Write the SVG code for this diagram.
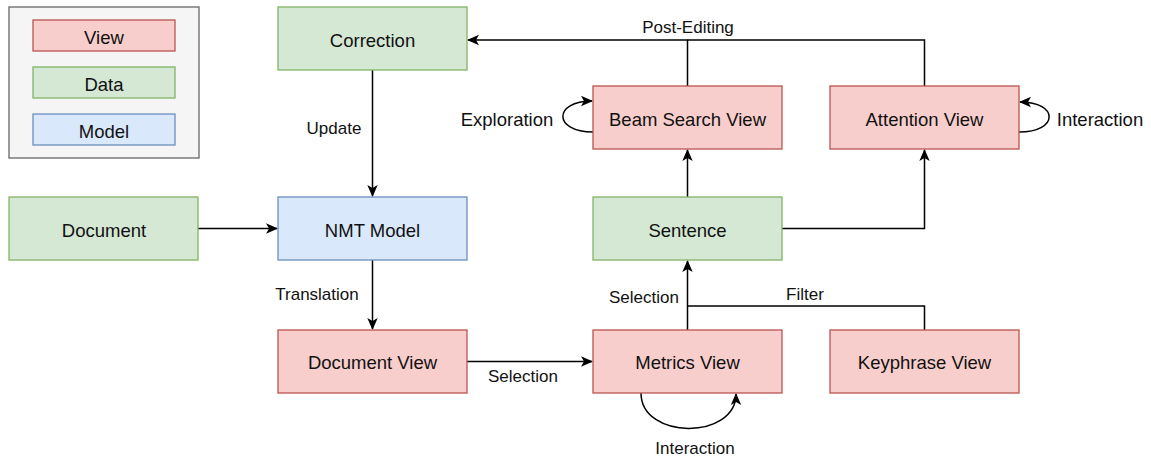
<svg xmlns="http://www.w3.org/2000/svg" width="1151" height="458" viewBox="0 0 1151 458">
  <style>
    text { font-family: "Liberation Sans", Arial, Helvetica, sans-serif; fill: #111; }
    .node-text { font-size: 18.5px; text-anchor: middle; dominant-baseline: central; }
    .edge-text { font-size: 17px; text-anchor: middle; dominant-baseline: central; }
    .loop-text { font-size: 18.5px; text-anchor: middle; dominant-baseline: central; }
    .legend-text { font-size: 18.5px; text-anchor: middle; dominant-baseline: central; }
    .view { fill: #f8cecc; stroke: #b85450; stroke-width: 1.3; }
    .data { fill: #d5e8d4; stroke: #82b366; stroke-width: 1.3; }
    .model { fill: #dae8fc; stroke: #6c8ebf; stroke-width: 1.3; }
    .edge { fill: none; stroke: #000; stroke-width: 1.5; }
  </style>
  <defs>
    <marker id="arrow" viewBox="0 0 12 12" refX="11" refY="6" markerWidth="12" markerHeight="12" markerUnits="userSpaceOnUse" orient="auto">
      <path d="M0,0.8 L12,6 L0,11.2 L3,6 Z" fill="#000"/>
    </marker>
  </defs>

  <rect width="1151" height="458" fill="#ffffff"/>

  <!-- Legend -->
  <g id="legend">
    <rect x="9" y="7" width="190" height="151" fill="#f5f5f5" stroke="#666666" stroke-width="1.3"/>
    <rect class="view" x="33" y="20" width="142" height="31"/>
    <text class="legend-text" x="104" y="37">View</text>
    <rect class="data" x="33" y="67" width="142" height="31"/>
    <text class="legend-text" x="104" y="84">Data</text>
    <rect class="model" x="33" y="114" width="142" height="31"/>
    <text class="legend-text" x="104" y="131">Model</text>
  </g>

  <!-- Connectors -->
  <g id="connectors">
    <!-- Update -->
    <path class="edge" d="M372.5,70 L372.5,196" marker-end="url(#arrow)"/>
    <text class="edge-text" x="334" y="128">Update</text>
    <!-- Document to model -->
    <path class="edge" d="M198,228.5 L277,228.5" marker-end="url(#arrow)"/>
    <!-- Translation -->
    <path class="edge" d="M372.5,260 L372.5,329" marker-end="url(#arrow)"/>
    <text class="edge-text" x="317" y="294">Translation</text>
    <!-- Document View to Metrics View -->
    <path class="edge" d="M467,361.5 L592,361.5" marker-end="url(#arrow)"/>
    <text class="edge-text" x="523" y="376">Selection</text>
    <!-- Metrics View to Sentence -->
    <path class="edge" d="M687.5,330 L687.5,261" marker-end="url(#arrow)"/>
    <text class="edge-text" x="644" y="297">Selection</text>
    <!-- Keyphrase filter -->
    <path class="edge" d="M924.5,330 L924.5,306 L687.5,306"/>
    <text class="edge-text" x="805" y="294">Filter</text>
    <!-- Sentence to Beam Search View -->
    <path class="edge" d="M687.5,197 L687.5,150" marker-end="url(#arrow)"/>
    <!-- Sentence to Attention View -->
    <path class="edge" d="M782,228.5 L924.5,228.5 L924.5,150" marker-end="url(#arrow)"/>
    <!-- Post-Editing -->
    <path class="edge" d="M687.5,86 L687.5,40 L468,40" marker-end="url(#arrow)"/>
    <path class="edge" d="M924.5,86 L924.5,40 L687.5,40"/>
    <text class="edge-text" x="688" y="27">Post-Editing</text>
    <!-- Exploration loop -->
    <path class="edge" d="M593,132 C553,132 553,101 592,101" marker-end="url(#arrow)"/>
    <text class="loop-text" x="507" y="119">Exploration</text>
    <!-- Attention interaction loop -->
    <path class="edge" d="M1019,132 C1059,132 1059,102 1020,102" marker-end="url(#arrow)"/>
    <text class="loop-text" x="1100" y="119">Interaction</text>
    <!-- Metrics interaction loop -->
    <path class="edge" d="M641,393 C641,440 736,440 736,394" marker-end="url(#arrow)"/>
    <text class="edge-text" x="695" y="448">Interaction</text>
  </g>

  <!-- Nodes -->
  <g id="correction">
    <rect class="data" x="278" y="7" width="189" height="63"/>
    <text class="node-text" x="372.5" y="40">Correction</text>
  </g>
  <g id="document">
    <rect class="data" x="9" y="197" width="189" height="63"/>
    <text class="node-text" x="104" y="230">Document</text>
  </g>
  <g id="nmt-model">
    <rect class="model" x="278" y="197" width="189" height="63"/>
    <text class="node-text" x="372.5" y="230">NMT Model</text>
  </g>
  <g id="document-view">
    <rect class="view" x="278" y="330" width="189" height="63"/>
    <text class="node-text" x="372.5" y="362">Document View</text>
  </g>
  <g id="metrics-view">
    <rect class="view" x="593" y="330" width="189" height="63"/>
    <text class="node-text" x="687.5" y="362">Metrics View</text>
  </g>
  <g id="keyphrase-view">
    <rect class="view" x="830" y="330" width="189" height="63"/>
    <text class="node-text" x="924.5" y="362">Keyphrase View</text>
  </g>
  <g id="sentence">
    <rect class="data" x="593" y="197" width="189" height="63"/>
    <text class="node-text" x="687.5" y="230">Sentence</text>
  </g>
  <g id="beam-search-view">
    <rect class="view" x="593" y="86" width="189" height="63"/>
    <text class="node-text" x="687.5" y="119">Beam Search View</text>
  </g>
  <g id="attention-view">
    <rect class="view" x="830" y="86" width="189" height="63"/>
    <text class="node-text" x="924.5" y="119">Attention View</text>
  </g>
</svg>
